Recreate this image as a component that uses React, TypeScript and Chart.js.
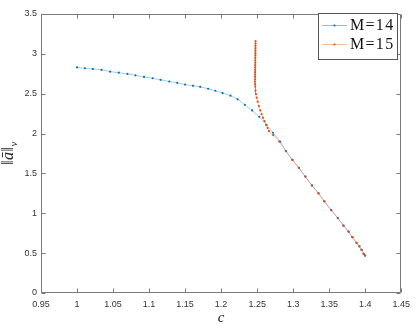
import React, { useEffect, useRef } from 'react';
import { Chart, registerables } from 'chart.js';

Chart.register(...registerables);

// ---- data ----
const cM14 = [
  1.000, 1.011, 1.022, 1.034, 1.046, 1.058, 1.070, 1.081, 1.093, 1.105,
  1.116, 1.128, 1.139, 1.150, 1.161, 1.171, 1.182, 1.192, 1.202, 1.213,
  1.223, 1.233, 1.243, 1.253, 1.263, 1.272, 1.282, 1.290, 1.299, 1.308,
  1.317, 1.326, 1.335, 1.343, 1.353, 1.362, 1.370, 1.377, 1.382, 1.388,
  1.392, 1.395, 1.398, 1.400,
];
const normM14 = [
  2.83, 2.818, 2.81, 2.80, 2.777, 2.764, 2.748, 2.731, 2.71, 2.694,
  2.674, 2.653, 2.636, 2.615, 2.599, 2.587, 2.562, 2.537, 2.508, 2.475,
  2.43, 2.36, 2.29, 2.21, 2.11, 2.01, 1.90, 1.78, 1.67, 1.57,
  1.46, 1.35, 1.25, 1.15, 1.04, 0.94, 0.845, 0.77, 0.70, 0.63,
  0.585, 0.54, 0.49, 0.47,
];
const cM15 = [
  1.2478, 1.2478, 1.2477, 1.2477, 1.2476, 1.2476, 1.2475, 1.2475, 1.2474, 1.2474,
  1.2473, 1.2473, 1.2472, 1.2472, 1.2471, 1.2471, 1.2470, 1.2470, 1.2471, 1.2473,
  1.2477, 1.2484, 1.2494, 1.2507, 1.2525, 1.2544, 1.2562, 1.2581, 1.2602, 1.2623,
  1.2644, 1.2664, 1.2723, 1.2806, 1.2898, 1.2989, 1.3077, 1.3168, 1.3260, 1.3353,
  1.3435, 1.3526, 1.3619, 1.3697, 1.3766, 1.3825, 1.3880, 1.3917, 1.3949, 1.3977,
  1.3994,
];
const normM15 = [
  3.16, 3.13, 3.10, 3.07, 3.04, 3.01, 2.98, 2.95, 2.92, 2.89,
  2.86, 2.83, 2.80, 2.77, 2.74, 2.71, 2.68, 2.65, 2.62, 2.59,
  2.54, 2.495, 2.45, 2.40, 2.345, 2.29, 2.245, 2.20, 2.155, 2.11,
  2.07, 2.03, 1.98, 1.90, 1.78, 1.67, 1.57, 1.46, 1.35, 1.25,
  1.15, 1.04, 0.94, 0.845, 0.77, 0.70, 0.63, 0.585, 0.54, 0.49,
  0.47,
];
const xTicks = [0.95, 1, 1.05, 1.1, 1.15, 1.2, 1.25, 1.3, 1.35, 1.4, 1.45];
const yTicks = [0, 0.5, 1, 1.5, 2, 2.5, 3, 3.5];
const seriesLabels = ['M=14', 'M=15'];
const xTitle = 'c';

const BLUE = '#0072BD';
const BLUE_LINE = 'rgba(0,114,189,0.45)';
const ORANGE = '#D95319';
const ORANGE_LINE = 'rgba(217,83,25,0.4)';

const fmt = (v: number) => String(Number(Number(v).toFixed(2)));

const framePlugin = {
  id: 'matlabFrame',
  afterDraw(chart: any) {
    const { ctx, chartArea: a, scales } = chart;
    const xs = scales.x;
    const ys = scales.y;
    ctx.save();
    ctx.strokeStyle = '#7a7a7a';
    ctx.lineWidth = 1;
    const L = Math.round(a.left) + 0.5;
    const R = Math.round(a.right) - 0.5;
    const T = Math.round(a.top) + 0.5;
    const B = Math.round(a.bottom) - 0.5;
    ctx.beginPath();
    ctx.rect(L, T, R - L, B - T);
    ctx.stroke();
    const tl = 4;
    ctx.beginPath();
    for (const v of xTicks) {
      const px = Math.round(xs.getPixelForValue(v)) + 0.5;
      ctx.moveTo(px, B); ctx.lineTo(px, B - tl);
      ctx.moveTo(px, T); ctx.lineTo(px, T + tl);
    }
    for (const v of yTicks) {
      const py = Math.round(ys.getPixelForValue(v)) + 0.5;
      ctx.moveTo(L, py); ctx.lineTo(L + tl, py);
      ctx.moveTo(R, py); ctx.lineTo(R - tl, py);
    }
    ctx.stroke();

    // legend box (inside top-right corner)
    const bx = 318.5, by = 13.5, bw = 79, bh = 46;
    ctx.fillStyle = '#ffffff';
    ctx.fillRect(bx, by, bw, bh);
    ctx.strokeStyle = '#555555';
    ctx.strokeRect(bx, by, bw, bh);
    const rows = [
      { label: seriesLabels[0], line: BLUE_LINE, dot: BLUE, y: 25 },
      { label: seriesLabels[1], line: ORANGE_LINE, dot: ORANGE, y: 44 },
    ];
    for (const r of rows) {
      ctx.strokeStyle = r.line;
      ctx.lineWidth = 1;
      ctx.beginPath();
      ctx.moveTo(322, r.y + 0.5);
      ctx.lineTo(347, r.y + 0.5);
      ctx.stroke();
      ctx.fillStyle = r.dot;
      ctx.beginPath();
      ctx.arc(334.5, r.y + 0.5, 1.1, 0, Math.PI * 2);
      ctx.fill();
      ctx.fillStyle = '#111111';
      ctx.font = '16px "Liberation Serif", "DejaVu Serif", serif';
      ctx.textBaseline = 'middle';
      ctx.textAlign = 'left';
      (ctx as any).letterSpacing = '1.3px';
      ctx.fillText(r.label, 350, r.y + 1);
      (ctx as any).letterSpacing = '0px';
    }

    // y-axis title  ||ā||_ν  (rotated)
    ctx.translate(9, 153);
    ctx.rotate(-Math.PI / 2);
    ctx.fillStyle = '#222222';
    ctx.textBaseline = 'middle';
    ctx.textAlign = 'left';
    const main = '16px "Liberation Serif", "DejaVu Serif", serif';
    const ital = 'italic 16px "Liberation Serif", "DejaVu Serif", serif';
    const sub = 'italic 11px "Liberation Serif", "DejaVu Serif", serif';
    const parts: [string, string, number][] = [
      ['\u2016', main, 0],
      ['\u0101', ital, 0],
      ['\u2016', main, 0],
      ['\u03BD', sub, 5],
    ];
    let total = 0;
    for (const [t, f] of parts) { ctx.font = f; total += ctx.measureText(t).width + 0.5; }
    let x0 = -total / 2;
    for (const [t, f, dy] of parts) {
      ctx.font = f;
      ctx.fillText(t, x0, dy);
      x0 += ctx.measureText(t).width + 0.5;
    }
    ctx.restore();
  },
};

export default function App() {
  const ref = useRef<HTMLCanvasElement>(null);
  useEffect(() => {
    document.body.style.margin = '0';
    document.body.style.overflow = 'hidden';
    const tickFont = { family: '"Liberation Sans", Arial, sans-serif', size: 9 };
    const chart = new Chart(ref.current as HTMLCanvasElement, {
      type: 'line',
      data: {
        datasets: [
          {
            label: seriesLabels[0],
            data: cM14.map((c, i) => ({ x: c, y: normM14[i] })),
            borderColor: BLUE_LINE,
            borderWidth: 0.8,
            pointRadius: 1.1,
            pointBorderWidth: 0,
            pointBackgroundColor: BLUE,
            tension: 0,
            order: 1,
          },
          {
            label: seriesLabels[1],
            data: cM15.map((c, i) => ({ x: c, y: normM15[i] })),
            borderColor: ORANGE_LINE,
            borderWidth: 0.8,
            pointRadius: 1.1,
            pointBorderWidth: 0,
            pointBackgroundColor: ORANGE,
            tension: 0,
            order: 0,
          },
        ],
      },
      options: {
        responsive: false,
        animation: false,
        devicePixelRatio: 1,
        layout: { padding: { top: 14, right: 12, left: 0, bottom: 0 } },
        plugins: { legend: { display: false }, tooltip: { enabled: false } },
        scales: {
          x: {
            type: 'linear',
            min: 0.95,
            max: 1.45,
            afterBuildTicks: (s: any) => { s.ticks = xTicks.map((v) => ({ value: v })); },
            afterFit: (s: any) => { s.height = 35; },
            grid: { display: false, drawTicks: false },
            border: { display: false },
            ticks: {
              callback: (v: any) => fmt(v),
              font: tickFont,
              color: '#333333',
              padding: 6,
              autoSkip: false,
              maxRotation: 0,
            },
            title: {
              display: true,
              text: xTitle,
              color: '#222222',
              font: { family: '"Liberation Serif", "DejaVu Serif", serif', size: 15, style: 'italic' },
              padding: { top: 0, bottom: 1 },
            },
          },
          y: {
            type: 'linear',
            min: 0,
            max: 3.5,
            afterBuildTicks: (s: any) => { s.ticks = yTicks.map((v) => ({ value: v })); },
            afterFit: (s: any) => { s.width = 41; },
            grid: { display: false, drawTicks: false },
            border: { display: false },
            ticks: {
              callback: (v: any) => fmt(v),
              font: tickFont,
              color: '#333333',
              padding: 4,
              autoSkip: false,
            },
          },
        },
      } as any,
      plugins: [framePlugin],
    });
    return () => chart.destroy();
  }, []);
  return (
    <div style={{ width: 416, height: 328, position: 'relative', background: '#fff' }}>
      <canvas ref={ref} width={416} height={328} style={{ display: 'block', width: 416, height: 328 }} />
    </div>
  );
}
